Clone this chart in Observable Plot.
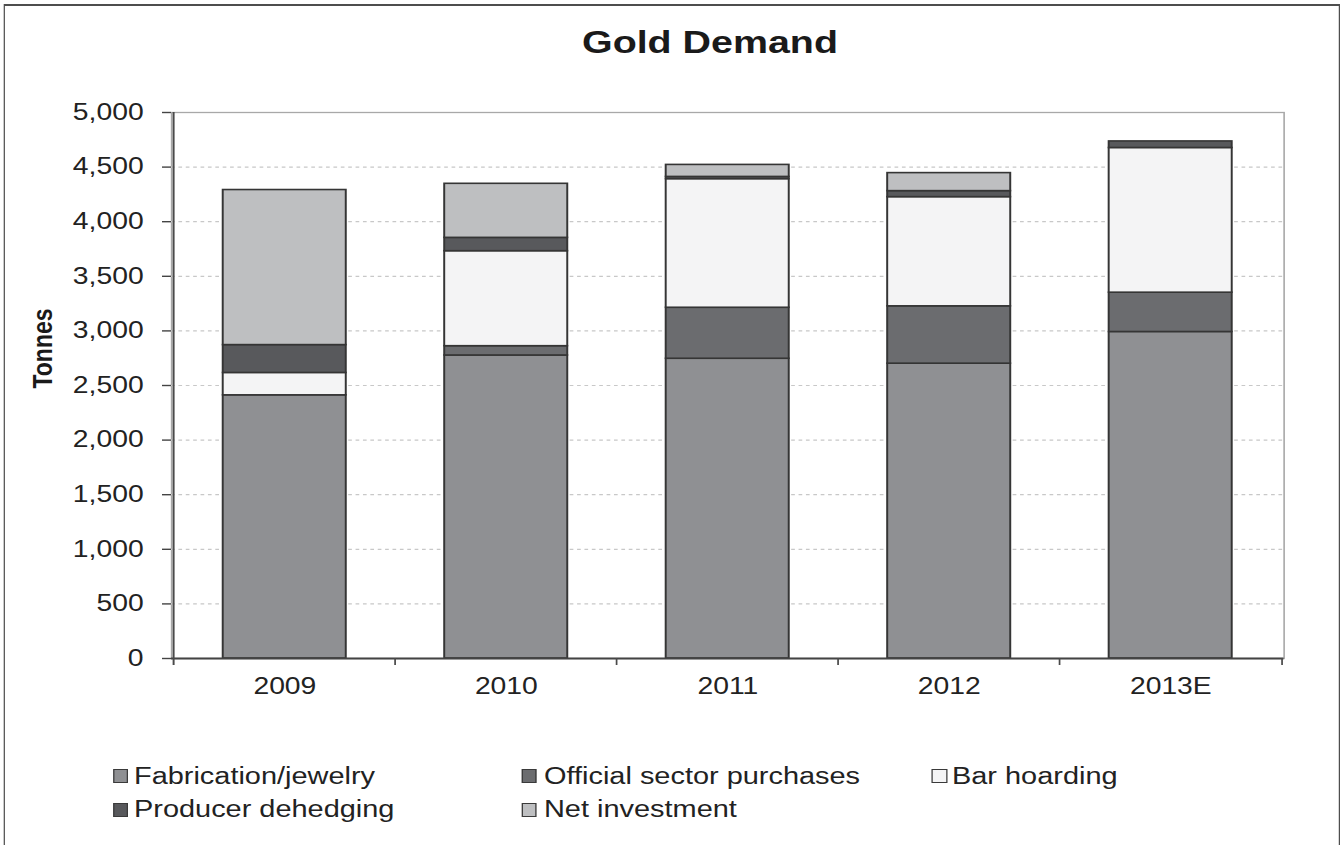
<!DOCTYPE html>
<html>
<head>
<meta charset="utf-8">
<script src="https://cdn.jsdelivr.net/npm/d3@7"></script>
<script src="https://cdn.jsdelivr.net/npm/@observablehq/plot@0.6"></script>
<style>
  html, body { margin: 0; padding: 0; background: #fff; }
  #stage {
    position: relative; width: 1089px; height: 845px; overflow: hidden;
    transform: scaleX(1.23049); transform-origin: 0 0;
    font-family: "Liberation Sans", Arial, sans-serif; color: #1e1e1e;
  }
  #frame { position: absolute; border: 2px solid #4e4e4e; border-left-width: 1.7px; border-right-width: 1.7px; }
  #title { position: absolute; text-align: center; font-weight: bold; font-size: 32px; line-height: 1; color: #1a1a1a; }
  #chart { position: absolute; left: 0; top: 80px; }
  .lg-sw { position: absolute; box-sizing: border-box; border: 1px solid #3a3a3a; }
  .lg-tx { position: absolute; font-size: 23.5px; line-height: 1; white-space: nowrap; color: #222; }
</style>
</head>
<body>
<div id="stage">
  <div id="frame"></div>
  <div id="title">Gold Demand</div>
  <div id="chart"></div>
  <div id="legend"></div>
</div>
<script>
// ---- data (tonnes) ----
const categories = ["2009", "2010", "2011", "2012", "2013E"];
const seriesNames = ["Fabrication/jewelry", "Official sector purchases", "Bar hoarding", "Producer dehedging", "Net investment"];
const fabrication   = [2410, 2775, 2745, 2700, 2990];
const officialSector = [0, 85, 467, 525, 360];
const barHoarding   = [205, 870, 1178, 1000, 1325];
const producerDehedging = [255, 122, 20, 55, 60];
const netInvestment = [1420, 495, 110, 165, 0];
const yTicks = [0, 500, 1000, 1500, 2000, 2500, 3000, 3500, 4000, 4500, 5000];

// ---- styles ----
const palette = ["#8f9093", "#6b6c6f", "#f4f4f5", "#58595c", "#bebfc1"];

// ---- layout (reference pixels, horizontally compressed by the stage scale) ----
const W = 1089, S = 1340 / W;
const px = v => v / S;
const plotLeft = px(171), plotRight = px(1283.5);
const marginTop = 32, plotH = 546, marginBottom = 60;
const H = marginTop + plotH + marginBottom;
const step = (plotRight - plotLeft) / categories.length;
const tickLen = 7 * yTicks[yTicks.length - 1] / plotH;

const allSeries = [fabrication, officialSector, barHoarding, producerDehedging, netInvestment];
const rows = [];
allSeries.forEach((vals, si) => vals.forEach((v, ci) => {
  if (v > 0) rows.push({year: categories[ci], series: seriesNames[si], value: v});
}));

const fr = document.getElementById("frame");
fr.style.left = px(4) + "px"; fr.style.top = "4px";
fr.style.width = (px(1338) - px(4)) + "px"; fr.style.height = "900px";
const ti = document.getElementById("title");
ti.style.left = (px(710) - 300) + "px"; ti.style.width = "600px"; ti.style.top = "26px";

const chart = Plot.plot({
  width: W, height: H,
  marginLeft: plotLeft, marginRight: W - plotRight, marginTop, marginBottom,
  style: {fontFamily: "'Liberation Sans', Arial, sans-serif", fontSize: "23px", color: "#222", background: "transparent", overflow: "visible"},
  x: {domain: categories, paddingInner: 0.443, paddingOuter: 0.2215, label: null},
  y: {domain: [yTicks[0], yTicks[yTicks.length - 1]], label: null},
  color: {domain: seriesNames, range: palette},
  marks: [
    Plot.frame({stroke: "#a8a8a8", strokeWidth: 1.3}),
    Plot.ruleY(yTicks.slice(1, -1), {stroke: "#c8c8c8", strokeWidth: 1.2, strokeDasharray: "3,3"}),
    Plot.barY(rows, {x: "year", y: "value", fill: "series", stroke: "#353535", strokeWidth: 1.6}),
    Plot.ruleY([0], {stroke: "#444", strokeWidth: 2}),
    Plot.ruleX([categories[0]], {x: d => d, dx: -step / 2, y1: -tickLen, y2: yTicks[yTicks.length - 1], stroke: "#4a4a4a", strokeWidth: 1.6}),
    Plot.ruleX(categories.slice(1), {x: d => d, dx: -step / 2, y1: -tickLen, y2: 0, stroke: "#4a4a4a", strokeWidth: 1.4}),
    Plot.ruleX([categories[categories.length - 1]], {x: d => d, dx: step / 2, y1: -tickLen, y2: 0, stroke: "#4a4a4a", strokeWidth: 1.4}),
    Plot.axisY({ticks: yTicks, tickFormat: d3.format(","), tickSize: px(9), tickPadding: px(19), fontSize: 23, stroke: "#444", strokeWidth: 1.4, label: null}),
    Plot.axisX({tickSize: 0, tickPadding: 19, fontSize: 23, label: null}),
    Plot.text(["Tonnes"], {text: d => d, frameAnchor: "left", dx: px(42) - plotLeft, dy: 3, rotate: -90, fontWeight: "bold", fontSize: 23, fill: "#1a1a1a"})
  ]
});
document.getElementById("chart").appendChild(chart);

// ---- legend ----
const colSw = [113, 522, 932], colTx = [134, 544, 952];
const rowSw = [769, 803], rowTx = [765, 798];
const legendPos = [[0, 0], [1, 0], [2, 0], [0, 1], [1, 1]];
const lg = document.getElementById("legend");
seriesNames.forEach((name, i) => {
  const [c, r] = legendPos[i];
  const sw = document.createElement("div");
  sw.className = "lg-sw";
  sw.style.left = px(colSw[c]) + "px"; sw.style.top = rowSw[r] + "px";
  sw.style.width = px(15) + "px"; sw.style.height = "14px";
  sw.style.background = palette[i];
  lg.appendChild(sw);
  const tx = document.createElement("div");
  tx.className = "lg-tx";
  tx.style.left = px(colTx[c]) + "px"; tx.style.top = rowTx[r] + "px";
  tx.textContent = name;
  lg.appendChild(tx);
});
</script>
</body>
</html>
